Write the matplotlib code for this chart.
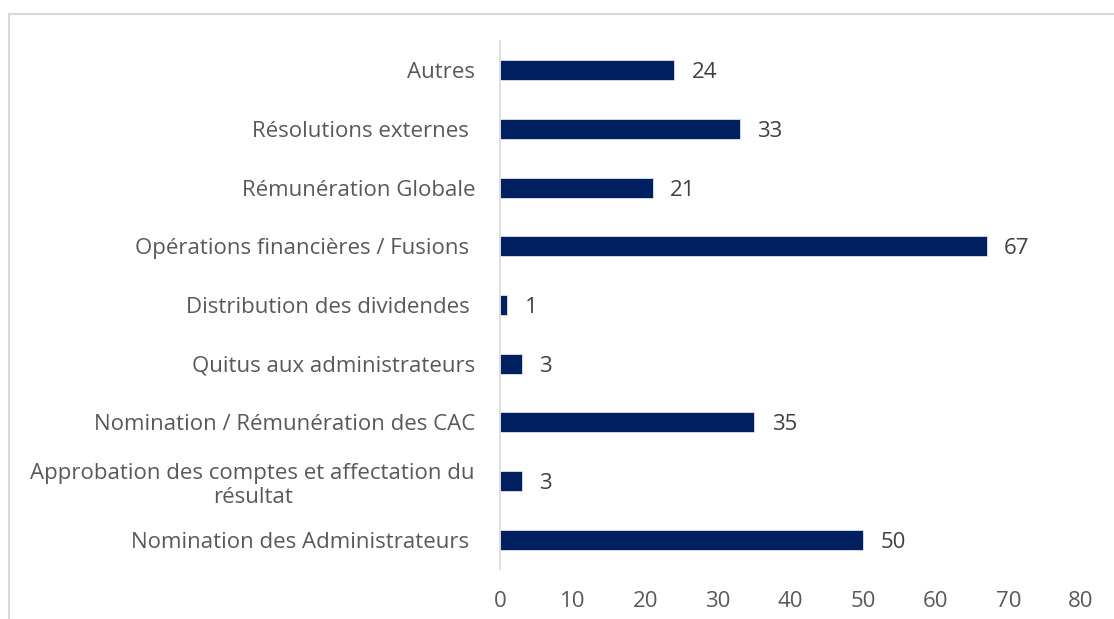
import matplotlib.pyplot as plt
from matplotlib.patches import Rectangle

categories = [
    "Nomination des Administrateurs ",
    "Approbation des comptes et affectation du\nrésultat",
    "Nomination / Rémunération des CAC",
    "Quitus aux administrateurs",
    "Distribution des dividendes ",
    "Opérations financières / Fusions ",
    "Rémunération Globale",
    "Résolutions externes ",
    "Autres",
]
values = [50, 3, 35, 3, 1, 67, 21, 33, 24]

plt.rcParams['font.family'] = ['Open Sans', 'DejaVu Sans']

fig = plt.figure(figsize=(11.14, 6.19), dpi=100)
ax = fig.add_axes([500 / 1114, 1 - 569 / 619, 581 / 1114, 528 / 619])

pos = range(len(categories))
ax.barh(pos, values, height=0.34, color="#002060", edgecolor="#dce3f0", linewidth=0.6)
for y, v in zip(pos, values):
    ax.text(v + 2.4, y, str(v), va="center_baseline", ha="left", fontsize=16, color="#404040")

ax.set_xlim(0, 80)
ax.set_ylim(-0.5, len(categories) - 0.5)
ax.set_xticks(range(0, 81, 10))
ax.set_yticks(list(pos))
ax.set_yticklabels(categories, multialignment="center")
ax.tick_params(axis="both", length=0, labelsize=16, labelcolor="#595959")
ax.tick_params(axis="y", pad=18)
ax.tick_params(axis="x", pad=16)

for s in ["top", "right", "bottom"]:
    ax.spines[s].set_visible(False)
ax.spines["left"].set_color("#d9d9d9")
ax.spines["left"].set_linewidth(1.2)

# outer chart border (partially cropped in the original)
fig.patches.append(Rectangle((9 / 1114, -0.1), 1.2, 1 - 14 / 619 + 0.1,
                             transform=fig.transFigure, fill=False,
                             edgecolor="#d9d9d9", linewidth=1.5))

fig.savefig("out.png", dpi=100)
